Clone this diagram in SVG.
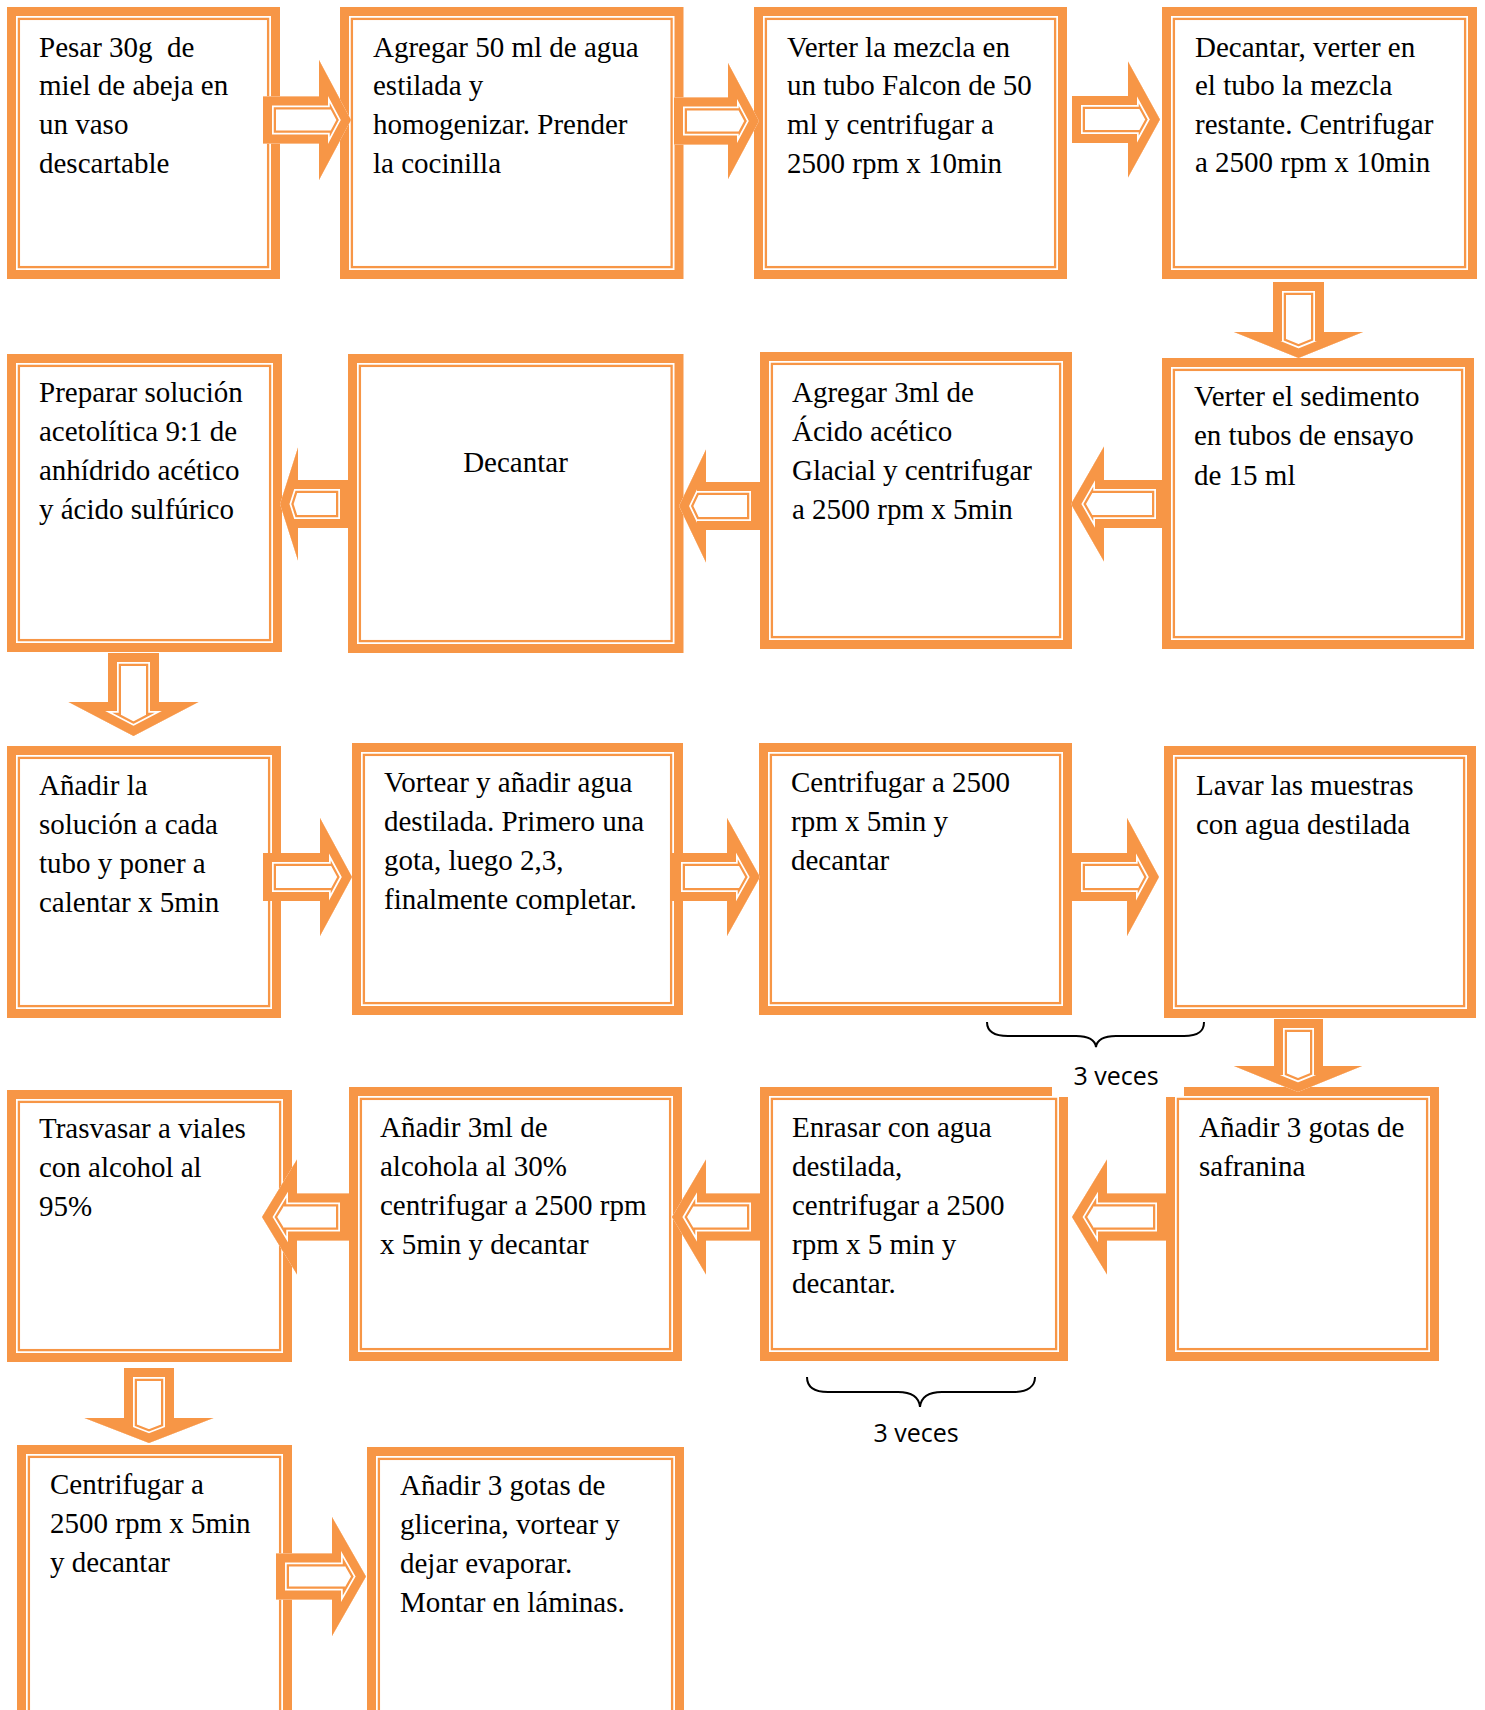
<svg xmlns="http://www.w3.org/2000/svg" width="1485" height="1710" viewBox="0 0 1485 1710">
<style>
.bo{fill:#fff;stroke:#F79646;stroke-width:9}
.bi{fill:none;stroke:#F79646;stroke-width:2.3}
.t{font-family:"Liberation Serif","Times New Roman",serif;font-size:29px;fill:#000}
.k1{fill:#fff;stroke:#F79646;stroke-width:26;stroke-linejoin:miter;stroke-miterlimit:12}
.k2{fill:none;stroke:#fff;stroke-width:21.5;stroke-linejoin:miter;stroke-miterlimit:12}
.k3{fill:none;stroke:#F79646;stroke-width:18;stroke-linejoin:miter;stroke-miterlimit:12}
.br{fill:none;stroke:#000;stroke-width:2}
.lb{font-family:"Open Sans","Liberation Sans",sans-serif;font-size:25px;fill:#000;text-anchor:middle}
</style>
<defs>
<path id="a-r1" d="M263,96.5 H319 V60 L351,120 L319,180 V143.5 H263 Z"/>
<path id="a-r2" d="M674,97.5 H728 V63 L759,121 L728,179 V144.5 H674 Z"/>
<path id="a-r3" d="M1072,96 H1128 V61.5 L1160,119.5 L1128,177.5 V143 H1072 Z"/>
<path id="a-d1" d="M1273,282 H1324 V332 H1363 L1298.5,358 L1234,332 H1273 Z"/>
<path id="a-l1" d="M1165,480 H1104 V446.5 L1071,504 L1104,561.5 V528 H1165 Z"/>
<path id="a-l2" d="M760,482 H706 V449.5 L679,506 L706,562.5 V530 H760 Z"/>
<path id="a-l3" d="M349,480 H298 V447.5 L280,504 L298,560.5 V528 H349 Z"/>
<path id="a-d2" d="M108,653 H159 V702 H198.5 L133.5,736 L68.5,702 H108 Z"/>
<path id="a-r4" d="M263,853 H320 V818 L352,877 L320,936 V901 H263 Z"/>
<path id="a-r5" d="M672,853 H727 V818 L760,877 L727,936 V901 H672 Z"/>
<path id="a-r6" d="M1072,853 H1127 V818 L1159,877 L1127,936 V901 H1072 Z"/>
<path id="a-d3" d="M1274,1019 H1323 V1066 H1362 L1298,1092 L1234,1066 H1274 Z"/>
<path id="a-l4" d="M1166,1193.5 H1107 V1159.5 L1072,1217 L1107,1274.5 V1240.5 H1166 Z"/>
<path id="a-l5" d="M760,1193.5 H706 V1159.5 L672,1217 L706,1274.5 V1240.5 H760 Z"/>
<path id="a-l6" d="M349,1193.5 H297 V1159.5 L262,1217 L297,1274.5 V1240.5 H349 Z"/>
<path id="a-d4" d="M124,1368 H174 V1418 H213.5 L149,1443 L84.5,1418 H124 Z"/>
<path id="a-r7" d="M276,1553.5 H332 V1517 L366,1576.5 L332,1636 V1599.5 H276 Z"/>
<clipPath id="c-r1"><use href="#a-r1"/></clipPath>
<clipPath id="c-r2"><use href="#a-r2"/></clipPath>
<clipPath id="c-r3"><use href="#a-r3"/></clipPath>
<clipPath id="c-d1"><use href="#a-d1"/></clipPath>
<clipPath id="c-l1"><use href="#a-l1"/></clipPath>
<clipPath id="c-l2"><use href="#a-l2"/></clipPath>
<clipPath id="c-l3"><use href="#a-l3"/></clipPath>
<clipPath id="c-d2"><use href="#a-d2"/></clipPath>
<clipPath id="c-r4"><use href="#a-r4"/></clipPath>
<clipPath id="c-r5"><use href="#a-r5"/></clipPath>
<clipPath id="c-r6"><use href="#a-r6"/></clipPath>
<clipPath id="c-d3"><use href="#a-d3"/></clipPath>
<clipPath id="c-l4"><use href="#a-l4"/></clipPath>
<clipPath id="c-l5"><use href="#a-l5"/></clipPath>
<clipPath id="c-l6"><use href="#a-l6"/></clipPath>
<clipPath id="c-d4"><use href="#a-d4"/></clipPath>
<clipPath id="c-r7"><use href="#a-r7"/></clipPath>
</defs>
<rect width="1485" height="1710" fill="#fff"/>

<g id="node-1"><rect class="bo" x="11.5" y="11.5" width="264" height="263"/><rect class="bi" x="18.9" y="18.9" width="249.2" height="248.2"/>
<text class="t"><tspan x="39" y="57">Pesar 30g&#160; de</tspan><tspan x="39" y="95">miel de abeja en</tspan><tspan x="39" y="134">un vaso</tspan><tspan x="39" y="173">descartable</tspan></text></g>
<g id="node-2"><rect class="bo" x="344.5" y="11.5" width="334.5" height="263"/><rect class="bi" x="351.9" y="18.9" width="319.7" height="248.2"/>
<text class="t"><tspan x="373" y="57">Agregar 50 ml de agua</tspan><tspan x="373" y="95">estilada y</tspan><tspan x="373" y="134">homogenizar. Prender</tspan><tspan x="373" y="173">la cocinilla</tspan></text></g>
<g id="node-3"><rect class="bo" x="758.5" y="11.5" width="304" height="263"/><rect class="bi" x="765.9" y="18.9" width="289.2" height="248.2"/>
<text class="t"><tspan x="787" y="57">Verter la mezcla en</tspan><tspan x="787" y="95">un tubo Falcon de 50</tspan><tspan x="787" y="134">ml y centrifugar a</tspan><tspan x="787" y="173">2500 rpm x 10min</tspan></text></g>
<g id="node-4"><rect class="bo" x="1166.5" y="11.5" width="306" height="263"/><rect class="bi" x="1173.9" y="18.9" width="291.2" height="248.2"/>
<text class="t"><tspan x="1195" y="57">Decantar, verter en</tspan><tspan x="1195" y="95">el tubo la mezcla</tspan><tspan x="1195" y="134">restante. Centrifugar</tspan><tspan x="1195" y="172">a 2500 rpm x 10min</tspan></text></g>

<g id="node-5"><rect class="bo" x="11.5" y="358.5" width="266" height="289"/><rect class="bi" x="18.9" y="365.9" width="251.2" height="274.2"/>
<text class="t"><tspan x="39" y="402">Preparar solución</tspan><tspan x="39" y="441">acetolítica 9:1 de</tspan><tspan x="39" y="480">anhídrido acético</tspan><tspan x="39" y="519">y ácido sulfúrico</tspan></text></g>
<g id="node-6"><rect class="bo" x="352.5" y="358.5" width="326.5" height="290"/><rect class="bi" x="359.9" y="365.9" width="311.7" height="275.2"/>
<text class="t" x="515.5" y="472" text-anchor="middle">Decantar</text></g>
<g id="node-7"><rect class="bo" x="764.5" y="356.5" width="303" height="288"/><rect class="bi" x="771.9" y="363.9" width="288.2" height="273.2"/>
<text class="t"><tspan x="792" y="402">Agregar 3ml de</tspan><tspan x="792" y="441">Ácido acético</tspan><tspan x="792" y="480">Glacial y centrifugar</tspan><tspan x="792" y="519">a 2500 rpm x 5min</tspan></text></g>
<g id="node-8"><rect class="bo" x="1166.5" y="362.5" width="303" height="282"/><rect class="bi" x="1173.9" y="369.9" width="288.2" height="267.2"/>
<text class="t"><tspan x="1194" y="406">Verter el sedimento</tspan><tspan x="1194" y="445">en tubos de ensayo</tspan><tspan x="1194" y="485">de 15 ml</tspan></text></g>

<g id="node-9"><rect class="bo" x="11.5" y="750.5" width="265" height="263"/><rect class="bi" x="18.9" y="757.9" width="250.2" height="248.2"/>
<text class="t"><tspan x="39" y="795">Añadir la</tspan><tspan x="39" y="834">solución a cada</tspan><tspan x="39" y="873">tubo y poner a</tspan><tspan x="39" y="912">calentar x 5min</tspan></text></g>
<g id="node-10"><rect class="bo" x="356.5" y="747.5" width="322" height="263"/><rect class="bi" x="363.9" y="754.9" width="307.2" height="248.2"/>
<text class="t"><tspan x="384" y="792">Vortear y añadir agua</tspan><tspan x="384" y="831">destilada. Primero una</tspan><tspan x="384" y="870">gota, luego 2,3,</tspan><tspan x="384" y="909">finalmente completar.</tspan></text></g>
<g id="node-11"><rect class="bo" x="763.5" y="747.5" width="304" height="263"/><rect class="bi" x="770.9" y="754.9" width="289.2" height="248.2"/>
<text class="t"><tspan x="791" y="792">Centrifugar a 2500</tspan><tspan x="791" y="831">rpm x 5min y</tspan><tspan x="791" y="870">decantar</tspan></text></g>
<g id="node-12"><rect class="bo" x="1168.5" y="750.5" width="303" height="263"/><rect class="bi" x="1175.9" y="757.9" width="288.2" height="248.2"/>
<text class="t"><tspan x="1196" y="795">Lavar las muestras</tspan><tspan x="1196" y="834">con agua destilada</tspan></text></g>

<g id="node-13"><rect class="bo" x="11.5" y="1094.5" width="276" height="263"/><rect class="bi" x="18.9" y="1101.9" width="261.2" height="248.2"/>
<text class="t"><tspan x="39" y="1138">Trasvasar a viales</tspan><tspan x="39" y="1177">con alcohol al</tspan><tspan x="39" y="1216">95%</tspan></text></g>
<g id="node-14"><rect class="bo" x="353.5" y="1091.5" width="324" height="265"/><rect class="bi" x="360.9" y="1098.9" width="309.2" height="250.2"/>
<text class="t"><tspan x="380" y="1137">Añadir 3ml de</tspan><tspan x="380" y="1176">alcohola al 30%</tspan><tspan x="380" y="1215">centrifugar a 2500 rpm</tspan><tspan x="380" y="1254">x 5min y decantar</tspan></text></g>
<g id="node-15"><rect class="bo" x="764.5" y="1091.5" width="299" height="265"/><rect class="bi" x="771.9" y="1098.9" width="284.2" height="250.2"/>
<text class="t"><tspan x="792" y="1137">Enrasar con agua</tspan><tspan x="792" y="1176">destilada,</tspan><tspan x="792" y="1215">centrifugar a 2500</tspan><tspan x="792" y="1254">rpm x 5 min y</tspan><tspan x="792" y="1293">decantar.</tspan></text></g>
<g id="node-16"><rect class="bo" x="1170.5" y="1091.5" width="264" height="265"/><rect class="bi" x="1177.9" y="1098.9" width="249.2" height="250.2"/>
<text class="t"><tspan x="1199" y="1137">Añadir 3 gotas de</tspan><tspan x="1199" y="1176">safranina</tspan></text></g>

<g id="node-17"><rect class="bo" x="21.5" y="1449.5" width="266" height="291"/><rect class="bi" x="28.9" y="1456.9" width="251.2" height="276.2"/>
<text class="t"><tspan x="50" y="1494">Centrifugar a</tspan><tspan x="50" y="1533">2500 rpm x 5min</tspan><tspan x="50" y="1572">y decantar</tspan></text></g>
<g id="node-18"><rect class="bo" x="371.5" y="1451.5" width="308" height="291"/><rect class="bi" x="378.9" y="1458.9" width="293.2" height="276.2"/>
<text class="t"><tspan x="400" y="1495">Añadir 3 gotas de</tspan><tspan x="400" y="1534">glicerina, vortear y</tspan><tspan x="400" y="1573">dejar evaporar.</tspan><tspan x="400" y="1612">Montar en láminas.</tspan></text></g>

<g id="connectors">
<g clip-path="url(#c-r1)"><use href="#a-r1" class="k1"/><use href="#a-r1" class="k2"/><use href="#a-r1" class="k3"/></g>
<g clip-path="url(#c-r2)"><use href="#a-r2" class="k1"/><use href="#a-r2" class="k2"/><use href="#a-r2" class="k3"/></g>
<g clip-path="url(#c-r3)"><use href="#a-r3" class="k1"/><use href="#a-r3" class="k2"/><use href="#a-r3" class="k3"/></g>
<g clip-path="url(#c-d1)"><use href="#a-d1" class="k1"/><use href="#a-d1" class="k2"/><use href="#a-d1" class="k3"/></g>
<g clip-path="url(#c-l1)"><use href="#a-l1" class="k1"/><use href="#a-l1" class="k2"/><use href="#a-l1" class="k3"/></g>
<g clip-path="url(#c-l2)"><use href="#a-l2" class="k1"/><use href="#a-l2" class="k2"/><use href="#a-l2" class="k3"/></g>
<g clip-path="url(#c-l3)"><use href="#a-l3" class="k1"/><use href="#a-l3" class="k2"/><use href="#a-l3" class="k3"/></g>
<g clip-path="url(#c-d2)"><use href="#a-d2" class="k1"/><use href="#a-d2" class="k2"/><use href="#a-d2" class="k3"/></g>
<g clip-path="url(#c-r4)"><use href="#a-r4" class="k1"/><use href="#a-r4" class="k2"/><use href="#a-r4" class="k3"/></g>
<g clip-path="url(#c-r5)"><use href="#a-r5" class="k1"/><use href="#a-r5" class="k2"/><use href="#a-r5" class="k3"/></g>
<g clip-path="url(#c-r6)"><use href="#a-r6" class="k1"/><use href="#a-r6" class="k2"/><use href="#a-r6" class="k3"/></g>
<g clip-path="url(#c-d3)"><use href="#a-d3" class="k1"/><use href="#a-d3" class="k2"/><use href="#a-d3" class="k3"/></g>
<g clip-path="url(#c-l4)"><use href="#a-l4" class="k1"/><use href="#a-l4" class="k2"/><use href="#a-l4" class="k3"/></g>
<g clip-path="url(#c-l5)"><use href="#a-l5" class="k1"/><use href="#a-l5" class="k2"/><use href="#a-l5" class="k3"/></g>
<g clip-path="url(#c-l6)"><use href="#a-l6" class="k1"/><use href="#a-l6" class="k2"/><use href="#a-l6" class="k3"/></g>
<g clip-path="url(#c-d4)"><use href="#a-d4" class="k1"/><use href="#a-d4" class="k2"/><use href="#a-d4" class="k3"/></g>
<g clip-path="url(#c-r7)"><use href="#a-r7" class="k1"/><use href="#a-r7" class="k2"/><use href="#a-r7" class="k3"/></g>
</g>

<g id="annotations">
<path class="br" d="M987,1022 C987,1031 993,1036 1008,1036 L1076,1036 C1089,1036 1095,1040 1096,1047 C1097,1040 1103,1036 1116,1036 L1184,1036 C1199,1036 1204,1031 1204,1022"/>
<rect x="1052" y="1052" width="132" height="45" fill="#fff"/>
<text class="lb" x="1116" y="1085">3 veces</text>
<path class="br" d="M807,1377 C807,1386 813,1392 828,1392 L898,1392 C912,1392 919,1397 920,1407 C921,1397 928,1392 942,1392 L1013,1392 C1028,1392 1035,1386 1035,1377"/>
<text class="lb" x="916" y="1442">3 veces</text>
</g>
</svg>
